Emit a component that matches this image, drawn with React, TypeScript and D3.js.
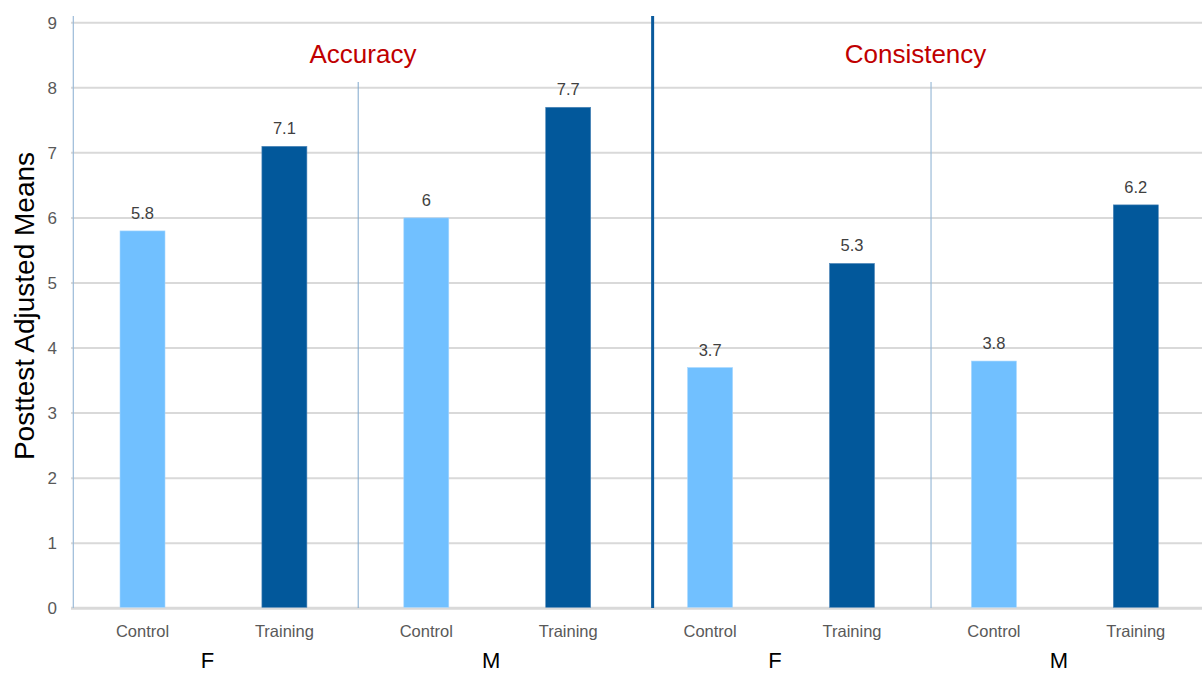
import React from "react";
import * as d3 from "d3";

const conditions = ["Control", "Training", "Control", "Training", "Control", "Training", "Control", "Training"];
const genders = ["F", "M", "F", "M"];
const measures = ["Accuracy", "Consistency"];
const values = [5.8, 7.1, 6, 7.7, 3.7, 5.3, 3.8, 6.2];
const valueLabels = ["5.8", "7.1", "6", "7.7", "3.7", "5.3", "3.8", "6.2"];
const yTicks = [0, 1, 2, 3, 4, 5, 6, 7, 8, 9];

const W = 1202;
const H = 673;
const FONT = "'Liberation Sans', Arial, sans-serif";
const LIGHT = "#71c0ff";
const DARK = "#02589b";

export default function App() {
  const x = d3
    .scaleBand<number>()
    .domain(d3.range(values.length))
    .range([71.55, 71.55 + 141.9 * values.length])
    .padding(0);
  const step = x.step();
  const barW = 45;
  const y = d3.scaleLinear().domain([0, 9]).range([608.3, 22.7]);
  const axisX = 73.3;
  const bandPos = (u: number) => 71.55 + u * step;
  const thin1 = bandPos(2.02);
  const thick = bandPos(4.095);
  const thin2 = bandPos(6.057);
  const titleX = [(axisX + thick) / 2, 915.5];

  return (
    <svg
      width={W}
      height={H}
      style={{ position: "absolute", left: 0, top: 0, display: "block", background: "#fff" }}
      fontFamily={FONT}
    >
      <rect x={0} y={0} width={W} height={H} fill="#fff" />
      {/* gridlines */}
      {yTicks.map((t) => (
        <line
          key={"g" + t}
          x1={71}
          x2={W}
          y1={y(t)}
          y2={y(t)}
          stroke="#d9d9d9"
          strokeWidth={t === 0 ? 3 : 2}
        />
      ))}
      {/* tick labels */}
      {yTicks.map((t) => (
        <text
          key={"t" + t}
          x={57}
          y={y(t)}
          dy="0.36em"
          textAnchor="end"
          fontSize={17}
          fill="#595959"
        >
          {t}
        </text>
      ))}
      {/* y axis line */}
      <line x1={axisX} x2={axisX} y1={16} y2={608} stroke="#9bbad8" strokeWidth={1.2} />
      {/* separators */}
      <line x1={thin1} x2={thin1} y1={82} y2={608} stroke="#7ea7cc" strokeWidth={1} />
      <line x1={thin2} x2={thin2} y1={82} y2={608} stroke="#9cbcd8" strokeWidth={1.2} />
      <line x1={thick} x2={thick} y1={16} y2={608} stroke="#0a5a9c" strokeWidth={3} />
      {/* bars */}
      {values.map((v, i) => {
        const cx = (x(i) as number) + step / 2;
        return (
          <g key={"b" + i}>
            <rect
              x={cx - barW / 2}
              y={y(v)}
              width={barW}
              height={y(0) - y(v) - 1}
              fill={i % 2 === 0 ? LIGHT : DARK}
              stroke={i % 2 === 0 ? "#a8d8ff" : "#4f86b8"}
              strokeWidth={0.6}
            />
            <text
              x={cx}
              y={y(v) - 12}
              textAnchor="middle"
              fontSize={16.5}
              fill="#404040"
            >
              {valueLabels[i]}
            </text>
            <text
              x={cx}
              y={637}
              textAnchor="middle"
              fontSize={16.5}
              fill="#595959"
            >
              {conditions[i]}
            </text>
          </g>
        );
      })}
      {/* gender labels */}
      {genders.map((g, k) => {
        const cx = (x(2 * k) as number) + step - 6;
        return (
          <text key={"gd" + k} x={cx} y={668} textAnchor="middle" fontSize={22} fill="#000">
            {g}
          </text>
        );
      })}
      {/* measure titles */}
      {measures.map((m, k) => (
        <text
          key={"m" + k}
          x={titleX[k]}
          y={63}
          textAnchor="middle"
          fontSize={26}
          fill="#c00000"
        >
          {m}
        </text>
      ))}
      {/* y title */}
      <text
        transform={`translate(34,306) rotate(-90)`}
        textAnchor="middle"
        fontSize={28}
        fill="#000"
      >
        Posttest Adjusted Means
      </text>
    </svg>
  );
}
